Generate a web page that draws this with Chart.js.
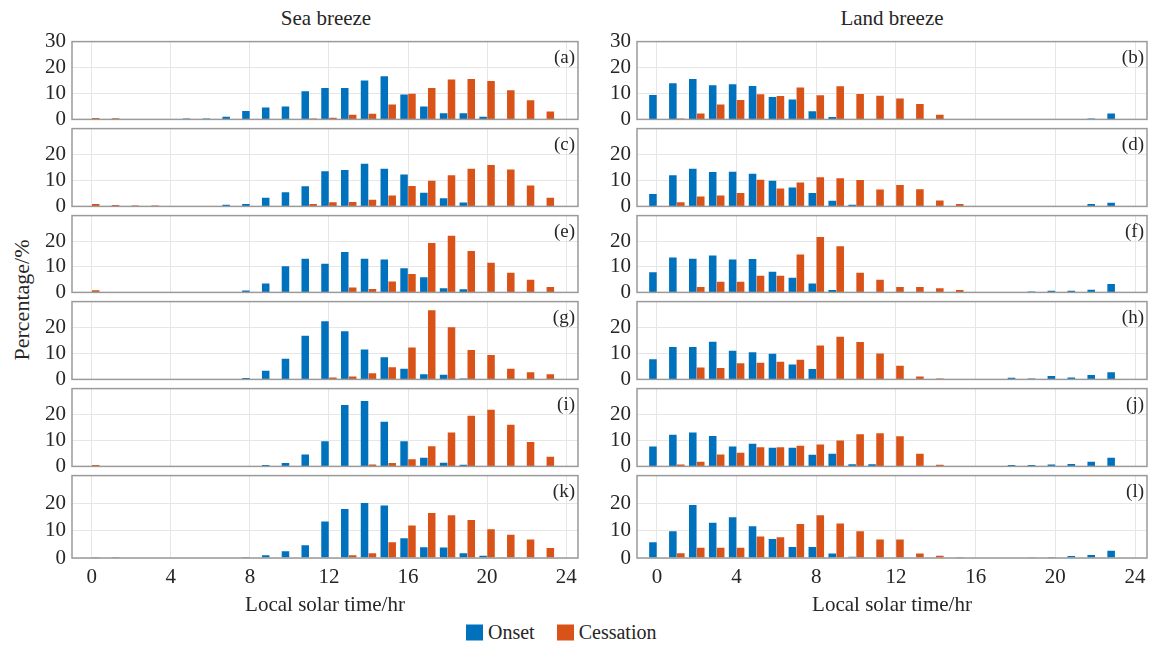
<!DOCTYPE html>
<html>
<head>
<meta charset="utf-8">
<script src="https://cdn.jsdelivr.net/npm/chart.js@4.4.0/dist/chart.umd.min.js"></script>
<style>
body { margin: 0; background: #fff; width: 1153px; height: 648px; position: relative; overflow: hidden;
       font-family: 'Liberation Serif', 'Times New Roman', serif; color: #262626; }
canvas { position: absolute; }
.lbl { position: absolute; font-size: 21px; white-space: nowrap; transform: translate(-50%, -50%); }
.legend { position: absolute; left: 466px; top: 632px; transform: translateY(-50%); display: flex; align-items: center; font-size: 20px; white-space: nowrap; }
.sw { display: inline-block; width: 17px; height: 16px; margin-right: 5px; }
</style>
</head>
<body>
<div class="lbl" style="left:326px;top:18px">Sea breeze</div>
<div class="lbl" style="left:892px;top:18px">Land breeze</div>
<div class="lbl" style="left:22px;top:300px;font-size:22px;transform:translate(-50%,-50%) rotate(-90deg)">Percentage/%</div>
<div class="legend">
  <span class="sw" style="background:#0072bd"></span><span style="margin-right:22px">Onset</span>
  <span class="sw" style="background:#d95319"></span><span>Cessation</span>
</div>

<script>
// hour of day (local solar time)
var hours = [0,1,2,3,4,5,6,7,8,9,10,11,12,13,14,15,16,17,18,19,20,21,22,23];
var xTicks = [0,4,8,12,16,20,24];
var yTicks = [0,10,20,30];

// sea breeze (left column)
var onsetA = [0,0,0,0,0,0.3,0.3,1.0,3.2,4.6,5.0,10.9,12.1,12.1,15.0,16.6,9.6,5.0,2.4,2.4,1.0,0,0,0];
var cessA  = [0.5,0.4,0,0,0,0,0,0,0,0,0,0.3,0.6,1.8,2.2,5.7,9.9,12.1,15.4,15.6,14.8,11.2,7.4,3.0];
var onsetC = [0,0,0,0,0,0,0.2,0.6,0.9,3.3,5.5,7.8,13.6,14.0,16.4,14.5,12.3,5.3,3.1,1.5,0,0,0,0];
var cessC  = [0.9,0.5,0.35,0.35,0,0,0,0,0,0,0,0.9,1.6,1.7,2.6,4.2,7.9,9.9,12.0,14.5,16.0,14.2,8.1,3.3];
var onsetE = [0,0,0,0,0,0,0.2,0.2,0.7,3.5,10.2,13.1,11.2,15.8,13.1,12.9,9.4,5.9,1.6,1.2,0.2,0,0,0];
var cessE  = [0.8,0.2,0,0,0,0,0,0,0,0,0,0,0,1.9,1.3,4.3,7.2,19.3,22.1,16.2,11.6,7.7,4.9,2.1];
var onsetG = [0,0,0,0,0,0,0,0,0.5,3.3,8.0,16.8,22.4,18.6,11.5,8.5,4.1,2.0,1.8,0.3,0,0,0,0];
var cessG  = [0.2,0,0,0,0,0,0,0,0,0,0,0,0.7,1.1,2.4,4.7,12.3,26.7,20.1,11.3,9.4,4.1,2.8,2.0];
var onsetI = [0,0,0,0,0,0,0,0,0.2,0.5,1.3,4.6,9.7,23.7,25.2,17.2,9.7,3.3,1.4,0.6,0.2,0,0,0];
var cessI  = [0.5,0,0,0,0,0,0,0,0,0,0,0,0,0.2,0.7,1.3,2.8,7.8,13.1,19.5,21.8,16.1,9.4,3.7];
var onsetK = [0,0,0,0,0,0,0,0,0.4,1.0,2.5,4.6,13.3,17.8,20.0,19.1,7.2,3.9,3.8,1.7,0.8,0.1,0,0];
var cessK  = [0.4,0.4,0,0,0,0,0,0,0,0,0,0,0,1.0,1.7,5.7,11.8,16.4,15.6,13.8,10.5,8.5,6.7,3.6];

// land breeze (right column)
var onsetB = [9.4,13.9,15.6,13.2,13.6,12.9,8.6,7.7,3.1,0.9,0,0,0,0,0,0,0,0,0,0,0,0,0.3,2.3];
var cessB  = [0,0.3,2.3,5.7,7.5,9.7,9.0,12.3,9.3,12.8,9.8,9.1,8.1,5.9,1.8,0,0,0,0,0,0,0,0,0];
var onsetD = [4.8,12.0,14.5,13.3,13.4,12.6,9.9,7.3,5.2,2.2,0.6,0,0,0,0,0,0,0,0,0,0.1,0.2,0.9,1.4];
var cessD  = [0,1.6,3.8,4.2,5.2,10.3,6.9,9.2,11.2,10.9,10.2,6.5,8.3,6.6,2.3,0.9,0,0,0,0,0,0,0,0];
var onsetF = [7.9,13.6,13.1,14.4,12.9,13.0,8.1,5.7,3.5,0.9,0,0,0,0,0,0,0,0,0.2,0.35,0.6,0.6,1.0,3.3];
var cessF  = [0,0.2,2.1,4.2,4.2,6.5,6.5,14.8,21.6,18.0,7.7,4.9,2.1,2.1,1.6,0.9,0,0,0,0,0,0,0,0];
var onsetH = [7.8,12.5,12.5,14.5,11.0,10.5,9.9,5.7,4.0,0.2,0,0,0,0,0,0,0,0,0.6,0.35,1.3,0.7,1.7,2.8];
var cessH  = [0,0.2,4.6,4.4,6.2,6.4,6.8,7.6,13.1,16.4,14.4,10.0,5.3,1.1,0.35,0,0,0,0,0,0,0,0,0];
var onsetJ = [7.7,12.2,13.1,11.7,7.7,8.7,7.2,7.2,4.5,4.9,0.8,0.8,0,0,0,0,0,0,0.5,0.5,0.7,0.9,1.8,3.3];
var cessJ  = [0,0.7,1.8,4.6,5.3,7.4,7.4,8.0,8.4,10.0,12.4,12.8,11.6,4.9,0.6,0,0,0,0,0,0,0,0,0];
var onsetL = [5.7,9.7,19.3,12.8,14.8,11.6,6.9,4.0,4.0,1.6,0.5,0,0,0,0,0,0,0,0,0.3,0.35,0.7,1.1,2.6];
var cessL  = [0,1.7,3.7,3.7,3.7,7.8,7.6,12.4,15.6,12.6,9.7,6.7,6.7,1.6,0.8,0.35,0,0,0,0,0,0,0,0];

var panels = [
    { letter: "(a)", col: 0, row: 0, onset: onsetA, cess: cessA },
    { letter: "(b)", col: 1, row: 0, onset: onsetB, cess: cessB },
    { letter: "(c)", col: 0, row: 1, onset: onsetC, cess: cessC },
    { letter: "(d)", col: 1, row: 1, onset: onsetD, cess: cessD },
    { letter: "(e)", col: 0, row: 2, onset: onsetE, cess: cessE },
    { letter: "(f)", col: 1, row: 2, onset: onsetF, cess: cessF },
    { letter: "(g)", col: 0, row: 3, onset: onsetG, cess: cessG },
    { letter: "(h)", col: 1, row: 3, onset: onsetH, cess: cessH },
    { letter: "(i)", col: 0, row: 4, onset: onsetI, cess: cessI },
    { letter: "(j)", col: 1, row: 4, onset: onsetJ, cess: cessJ },
    { letter: "(k)", col: 0, row: 5, onset: onsetK, cess: cessK },
    { letter: "(l)", col: 1, row: 5, onset: onsetL, cess: cessL }
];

var blue = "#0072bd";
var orange = "#d95319";
var textColor = "#262626";
var serif = "'Liberation Serif', 'Times New Roman', serif";

// page layout
var colLeft = [0, 590];
var colWidth = [590, 563];
var yAxisWidth = [72, 47];
var padRight = [12, 6];
var rowTop = [37, 124, 211, 297, 384, 471, 558];

Chart.defaults.font.family = serif;
Chart.defaults.font.size = 21;
Chart.defaults.color = textColor;

// box round each panel + panel letter
var framePlugin = {
    id: "frame",
    afterDatasetsDraw: function (chart, args, opts) {
        var a = chart.chartArea;
        var ctx = chart.ctx;
        ctx.save();
        ctx.strokeStyle = "#9a9a9a";
        ctx.lineWidth = 1.5;
        ctx.strokeRect(a.left, a.top, a.right - a.left, a.bottom - a.top);
        ctx.fillStyle = textColor;
        ctx.font = "19px " + serif;
        ctx.textAlign = "right";
        ctx.textBaseline = "middle";
        ctx.fillText(opts.letter, a.right - 3, a.top + 16);
        ctx.restore();
    }
};

function toPoints(values) {
    return values.map(function (v, i) { return { x: hours[i], y: v }; });
}

panels.forEach(function (p) {
    var last = p.row === 5;
    var plotTop = rowTop[p.row];
    var plotH = rowTop[p.row + 1] - plotTop;
    var canvas = document.createElement("canvas");
    var h = 14 + plotH + (last ? 62 : 14);
    canvas.width = colWidth[p.col];
    canvas.height = h;
    canvas.style.left = colLeft[p.col] + "px";
    canvas.style.top = (plotTop - 14) + "px";
    canvas.style.width = colWidth[p.col] + "px";
    canvas.style.height = h + "px";
    document.body.appendChild(canvas);

    new Chart(canvas.getContext("2d"), {
        type: "bar",
        data: {
            datasets: [
                { label: "Onset", data: toPoints(p.onset), backgroundColor: blue, borderWidth: 0 },
                { label: "Cessation", data: toPoints(p.cess), backgroundColor: orange, borderWidth: 0 }
            ]
        },
        options: {
            responsive: false,
            animation: false,
            devicePixelRatio: 1,
            layout: { padding: { top: 14, bottom: last ? 2 : 14, left: 0, right: padRight[p.col] } },
            datasets: { bar: { categoryPercentage: 0.8, barPercentage: 0.95 } },
            plugins: {
                legend: { display: false },
                tooltip: { enabled: false },
                frame: { letter: p.letter }
            },
            scales: {
                x: {
                    type: "linear",
                    min: -1,
                    max: 24.6,
                    offset: false,
                    grid: { offset: false, color: "#e6e6e6", drawTicks: false },
                    border: { display: false },
                    afterBuildTicks: function (s) { s.ticks = xTicks.map(function (v) { return { value: v }; }); },
                    ticks: { display: last, padding: 7, maxRotation: 0, autoSkip: false },
                    title: { display: last, text: "Local solar time/hr", padding: 0 },
                    afterFit: function (s) { s.height = last ? 60 : 0; }
                },
                y: {
                    min: 0,
                    max: 30,
                    grid: { color: "#e6e6e6", drawTicks: false },
                    border: { display: false },
                    afterBuildTicks: function (s) { s.ticks = yTicks.map(function (v) { return { value: v }; }); },
                    ticks: {
                        padding: 6,
                        autoSkip: false,
                        callback: function (v) { return (v === 30 && p.row > 0) ? "" : v; }
                    },
                    afterFit: function (s) { s.width = yAxisWidth[p.col]; }
                }
            }
        },
        plugins: [framePlugin]
    });
});
</script>
</body>
</html>
